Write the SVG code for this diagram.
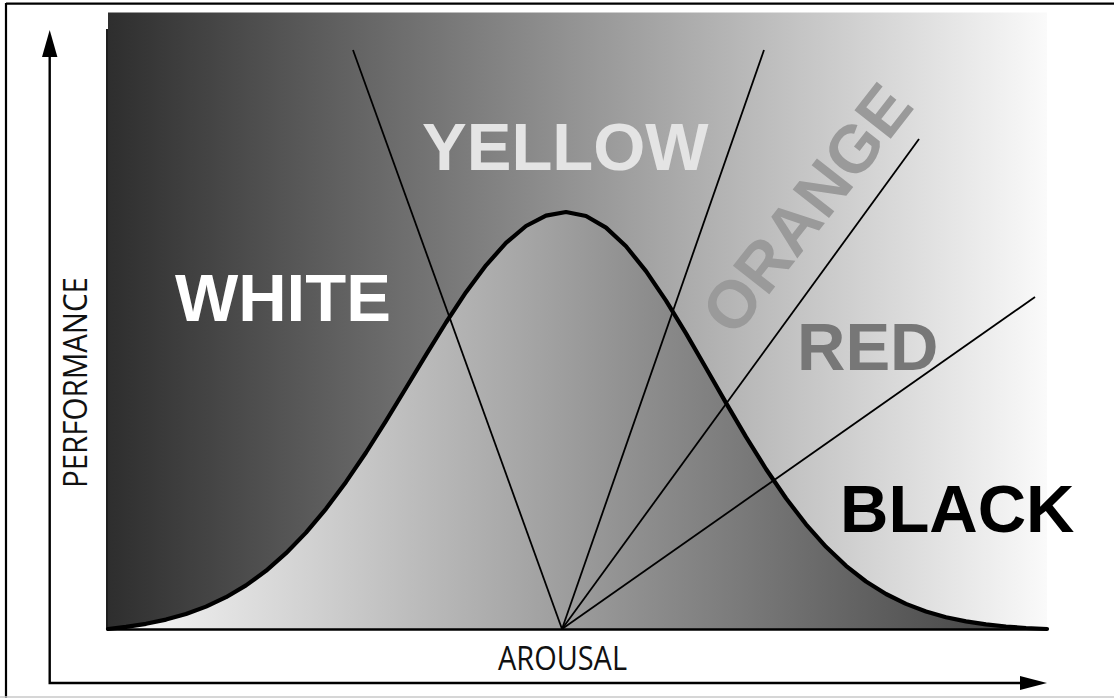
<svg xmlns="http://www.w3.org/2000/svg" width="1114" height="698" viewBox="0 0 1114 698">
  <defs>
    <linearGradient id="gTop" gradientUnits="userSpaceOnUse" x1="108" y1="0" x2="1047" y2="0">
      <stop offset="0" stop-color="#2e2e2e"/>
      <stop offset="1" stop-color="#fafafa"/>
    </linearGradient>
    <linearGradient id="gBottom" gradientUnits="userSpaceOnUse" x1="108" y1="0" x2="1047" y2="0">
      <stop offset="0" stop-color="#fafafa"/>
      <stop offset="1" stop-color="#3c3c3c"/>
    </linearGradient>
    <marker id="arrow" viewBox="0 0 10 10" refX="10" refY="5" markerWidth="11" markerHeight="6" markerUnits="strokeWidth" orient="auto">
      <path d="M0,0 L10,5 L0,10 z" fill="#000"/>
    </marker>
    <style>
      .big { font-family: "Liberation Sans", Arial, sans-serif; font-weight: bold; font-size: 67px; }
      .axis-label { font-family: "Open Sans", "Liberation Sans", sans-serif; font-size: 32px; fill: #111; }
      .zone { stroke: #000; stroke-width: 1.8; fill: none; }
      .axis { stroke: #000; stroke-width: 2.4; fill: none; }
    </style>
  </defs>

  <rect width="1114" height="698" fill="#fff"/>

  <g id="frame">
    <line x1="6" y1="3.7" x2="1114" y2="3.7" stroke="#000" stroke-width="2.2"/>
    <line x1="6" y1="3" x2="6" y2="698" stroke="#000" stroke-width="2.2"/>
    <line x1="0" y1="697" x2="1114" y2="697" stroke="#c8c8c8" stroke-width="1.5"/>
  </g>

  <g id="plot-background">
    <rect x="108" y="12.5" width="939" height="617" fill="url(#gTop)"/>
    <polygon fill="url(#gBottom)" points="108,629 126,626.9 146,623.8 166,619.6 186,614.0 206,606.6 226,597.2 246,585.4 266,570.8 286,553.2 306,532.6 326,508.8 346,481.9 366,452.5 386,420.9 406,388.0 426,354.9 446,322.5 466,292.2 486,265.3 506,242.9 526,226.0 546,215.6 566,212 586,216.0 606,227.6 626,246.3 646,271.1 666,300.6 686,333.4 706,368.0 726,402.9 746,436.9 766,469.0 786,498.3 806,524.3 826,546.8 846,565.8 866,581.5 886,594.0 906,603.9 926,611.5 946,617.2 966,621.4 986,624.4 1006,626.5 1026,628.0 1047,629"/>
    <line x1="107" y1="29" x2="107" y2="630" stroke="#1e1e1e" stroke-width="2"/>
    <line x1="107" y1="629.5" x2="1047" y2="629.5" stroke="#000" stroke-width="2.3"/>
  </g>

  <g id="labels">
    <text id="label-white" class="big" x="175" y="321" fill="#ffffff">WHITE</text>
    <text id="label-yellow" class="big" x="422" y="170" font-size="66" fill="#e4e4e4">YELLOW</text>
    <text id="label-orange" class="big" transform="translate(825,223) rotate(-52)" text-anchor="middle" font-size="65" fill="#9a9a9a">ORANGE</text>
    <text id="label-red" class="big" x="797" y="370" fill="#777777">RED</text>
    <text id="label-black" class="big" x="840" y="532" fill="#000000">BLACK</text>
  </g>

  <g id="connectors">
    <line class="zone" x1="562" y1="629" x2="353" y2="50"/>
    <line class="zone" x1="562" y1="629" x2="764" y2="50"/>
    <line class="zone" x1="562" y1="629" x2="919" y2="139"/>
    <line class="zone" x1="562" y1="629" x2="1035" y2="297"/>
  </g>

  <g id="curve">
    <polyline fill="none" stroke="#000" stroke-width="4.2" stroke-linejoin="round" stroke-linecap="round" points="108,629 126,626.9 146,623.8 166,619.6 186,614.0 206,606.6 226,597.2 246,585.4 266,570.8 286,553.2 306,532.6 326,508.8 346,481.9 366,452.5 386,420.9 406,388.0 426,354.9 446,322.5 466,292.2 486,265.3 506,242.9 526,226.0 546,215.6 566,212 586,216.0 606,227.6 626,246.3 646,271.1 666,300.6 686,333.4 706,368.0 726,402.9 746,436.9 766,469.0 786,498.3 806,524.3 826,546.8 846,565.8 866,581.5 886,594.0 906,603.9 926,611.5 946,617.2 966,621.4 986,624.4 1006,626.5 1026,628.0 1047,629"/>
  </g>

  <g id="axes">
    <polyline class="axis" points="49.7,57 49.7,683 1021,683"/>
    <polygon points="49.7,30 42,57 57.4,57" fill="#000"/>
    <polygon points="1047,683 1020,676 1020,690" fill="#000"/>
    <text id="axis-y" class="axis-label" transform="translate(87,382.5) rotate(-90)" text-anchor="middle" font-size="33" textLength="211" lengthAdjust="spacingAndGlyphs">PERFORMANCE</text>
    <text id="axis-x" class="axis-label" x="562.5" y="670" text-anchor="middle" textLength="129" lengthAdjust="spacingAndGlyphs">AROUSAL</text>
  </g>
</svg>
